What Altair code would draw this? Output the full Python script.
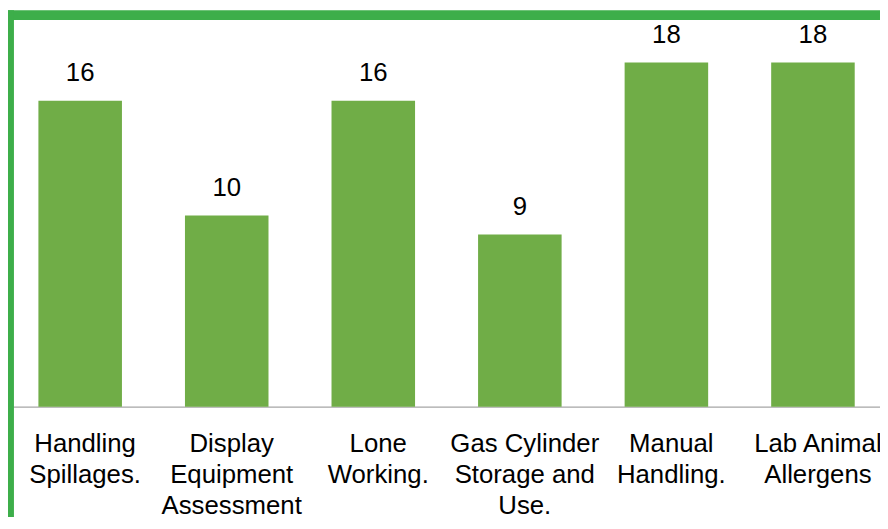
import altair as alt
import pandas as pd

categories = [
    "Handling|Spillages.",
    "Display|Equipment|Assessment",
    "Lone|Working.",
    "Gas Cylinder|Storage and|Use.",
    "Manual|Handling.",
    "Lab Animal|Allergens",
]
values = [16, 10, 16, 9, 18, 18]

df = pd.DataFrame({"cat": categories, "val": values})

FONT = "Liberation Sans"
BAR = "#70AD47"
FRAME = "#3DAE4A"

x_scale = alt.Scale(paddingInner=0.43, paddingOuter=0.19, align=0.546)

x_enc = alt.X(
    "cat:N",
    sort=categories,
    title=None,
    scale=x_scale,
    axis=alt.Axis(
        labelExpr="split(datum.label, '|')",
        labelAngle=0,
        labelFontSize=26,
        labelFont=FONT,
        labelColor="#000000",
        labelLineHeight=31.5,
        labelPadding=24,
        labelBaseline="top",
        labelOffset=5,
        ticks=False,
        tickSize=0,
        domainColor="#A6A6A6",
        domainWidth=1.3,
        grid=False,
        labelOverlap=False,
        labelBound=False,
        labelFlush=False,
    ),
)
y_enc = alt.Y("val:Q", scale=alt.Scale(domain=[0, 20], nice=False), axis=None)

bars = alt.Chart(df).mark_bar(color=BAR).encode(x=x_enc, y=y_enc)
labels = alt.Chart(df).mark_text(
    fontSize=26, font=FONT, color="#000000", baseline="alphabetic", dy=-20
).encode(x=alt.X("cat:N", sort=categories), y="val:Q", text="val:Q")

frame_df = pd.DataFrame({"k": [0]})
top_band = alt.Chart(frame_df).mark_rect(color=FRAME).encode(
    x=alt.value(0), x2=alt.value(880), y=alt.value(-14), y2=alt.value(-4.3)
)
left_band = alt.Chart(frame_df).mark_rect(color=FRAME).encode(
    x=alt.value(0), x2=alt.value(6), y=alt.value(-14), y2=alt.value(500)
)

chart = (
    alt.layer(bars, labels, top_band, left_band)
    .properties(
        width=880,
        height=386,
        autosize=alt.AutoSizeParams(type="none"),
        padding={"top": 14, "left": 0, "right": 0, "bottom": 109},
        background="white",
    )
    .configure_view(stroke=None)
)

chart.save("out.html", embed_options={"renderer": "svg", "actions": False})
